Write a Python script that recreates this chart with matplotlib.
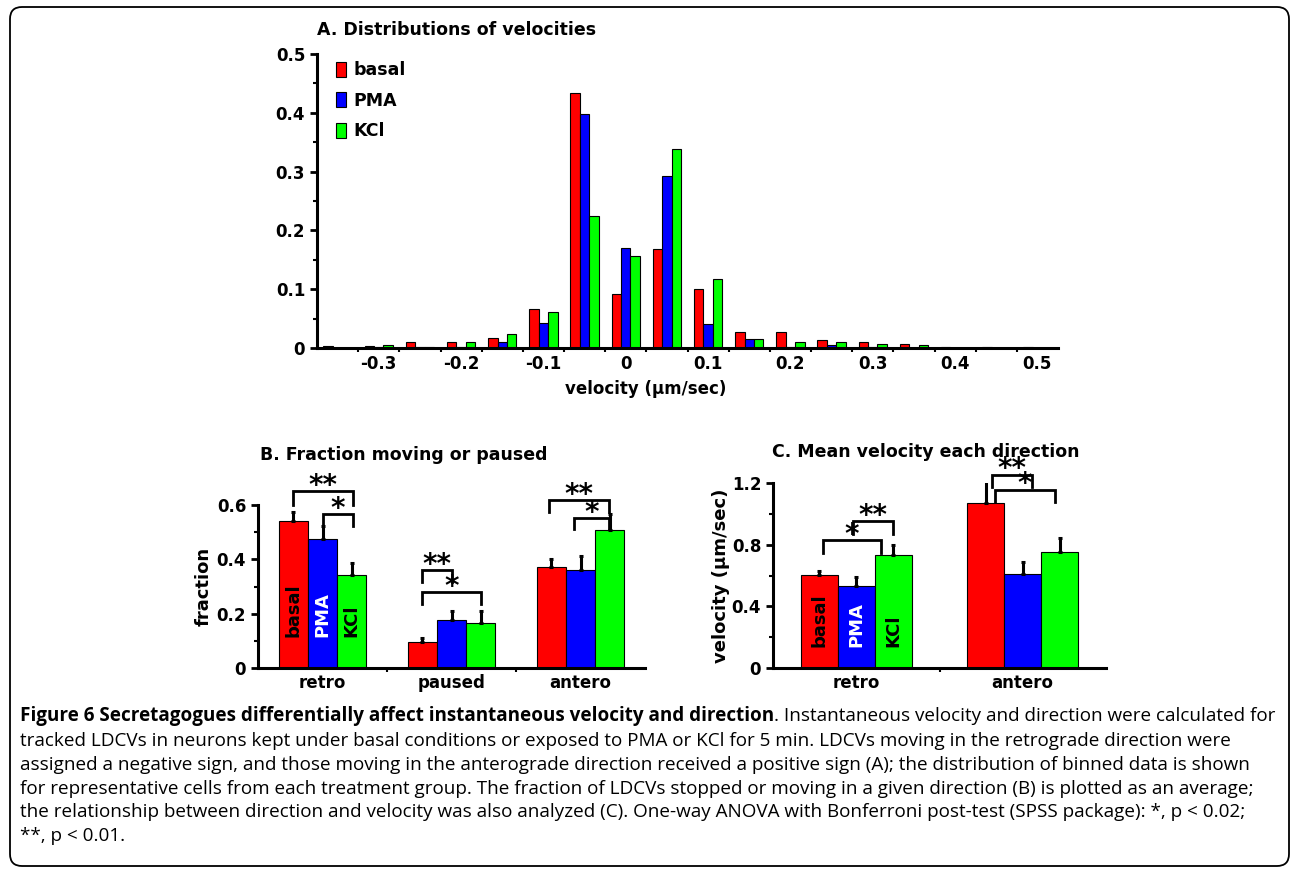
import numpy as np
import matplotlib.pyplot as plt
from matplotlib.patches import Patch, FancyBboxPatch

# ---- panel A: binned velocity distribution ----
bin_centers = [-0.35, -0.30, -0.25, -0.20, -0.15, -0.10, -0.05, 0.0, 0.05,
               0.10, 0.15, 0.20, 0.25, 0.30, 0.35, 0.40, 0.45, 0.50]
basal_hist = [0.003, 0.003, 0.010, 0.010, 0.017, 0.067, 0.434, 0.092, 0.169,
              0.101, 0.028, 0.028, 0.014, 0.011, 0.007, 0.002, 0.001, 0.001]
pma_hist = [0.0, 0.001, 0.001, 0.002, 0.011, 0.043, 0.398, 0.170, 0.292,
            0.041, 0.015, 0.001, 0.005, 0.001, 0.0, 0.0, 0.0, 0.0]
kcl_hist = [0.0, 0.005, 0.001, 0.011, 0.024, 0.061, 0.224, 0.156, 0.339,
            0.117, 0.015, 0.010, 0.010, 0.007, 0.005, 0.0, 0.0, 0.0]
xlabels_a = ['-0.3', '-0.2', '-0.1', '0', '0.1', '0.2', '0.3', '0.4', '0.5']
xlabel_pos_a = [-0.3, -0.2, -0.1, 0.0, 0.1, 0.2, 0.3, 0.4, 0.5]

# ---- panel B: fraction moving or paused ----
cats_b = ['retro', 'paused', 'antero']
frac_basal = [0.542, 0.097, 0.371]
frac_basal_err = [0.033, 0.012, 0.032]
frac_pma = [0.475, 0.175, 0.362]
frac_pma_err = [0.048, 0.033, 0.051]
frac_kcl = [0.344, 0.164, 0.507]
frac_kcl_err = [0.043, 0.044, 0.060]

# ---- panel C: mean velocity each direction ----
cats_c = ['retro', 'antero']
vel_basal = [0.601, 1.07]
vel_basal_err = [0.028, 0.21]
vel_pma = [0.534, 0.612]
vel_pma_err = [0.056, 0.073]
vel_kcl = [0.731, 0.752]
vel_kcl_err = [0.065, 0.093]

groups = ['basal', 'PMA', 'KCl']
colors = ['#ff0000', '#0000ff', '#00ff00']

# significance brackets: (category, left offset, right offset, y, leg bottom, label), offsets in bar widths
sig_b = [(0, -1.0, 1.05, 0.650, 0.600, '**'),
         (0, 0.0, 1.05, 0.567, 0.524, '*'),
         (1, -1.0, 0.0, 0.360, 0.317, '**'),
         (1, -1.0, 1.0, 0.280, 0.237, '*'),
         (2, -1.08, 0.98, 0.619, 0.576, '**'),
         (2, -0.23, 0.98, 0.553, 0.510, '*')]
sig_c = [(0, -0.90, 0.68, 0.832, 0.748, '*'),
         (0, -0.08, 1.0, 0.951, 0.871, '**'),
         (1, -0.84, 0.25, 1.254, 1.174, '**'),
         (1, -0.75, 0.88, 1.157, 1.077, '*')]

W, H = 1292, 869
plt.rcParams['font.family'] = 'DejaVu Sans'
plt.rcParams['font.weight'] = 'bold'
fig = plt.figure(figsize=(W / 100, H / 100), dpi=100)


def px_axes(l, t, r, b):
    return fig.add_axes([l / W, 1 - b / H, (r - l) / W, (b - t) / H])


def style_axes(ax):
    for s in ['top', 'right']:
        ax.spines[s].set_visible(False)
    for s in ['left', 'bottom']:
        ax.spines[s].set_linewidth(2.2)
    ax.tick_params(which='major', direction='out', length=5, width=2, labelsize=12)
    ax.tick_params(which='minor', direction='out', length=3, width=1.5)


# ---------- A ----------
axA = px_axes(317, 54, 1058, 348)
bw = 0.0115
x = np.array(bin_centers)
for k, (vals, c, g) in enumerate(zip([basal_hist, pma_hist, kcl_hist], colors, groups)):
    axA.bar(x + (k - 1) * bw, vals, width=bw, color=c, edgecolor='black', linewidth=0.8, label=g)
axA.set_xlim(-0.375, 0.525)
axA.set_ylim(0, 0.5)
style_axes(axA)
axA.set_xticks(xlabel_pos_a)
axA.set_xticklabels(xlabels_a)
axA.tick_params(axis='x', which='major', length=0, pad=5)
axA.set_xticks(np.array(bin_centers[:-1]) + 0.025, minor=True)
axA.set_yticks([0, 0.1, 0.2, 0.3, 0.4, 0.5])
axA.set_yticklabels(['0', '0.1', '0.2', '0.3', '0.4', '0.5'])
axA.set_yticks([0.05, 0.15, 0.25, 0.35, 0.45], minor=True)
axA.set_xlabel('velocity (\u03bcm/sec)', fontsize=12, fontweight='bold', labelpad=5)
axA.xaxis.label.set_x(0.443)
axA.set_title('A. Distributions of velocities', loc='left', fontsize=12.5, fontweight='bold', pad=14)
handles = [Patch(facecolor=c, edgecolor='black', linewidth=0.8) for c in colors]
axA.legend(handles, groups, loc='upper left', bbox_to_anchor=(0.014, 1.005),
           frameon=False, handlelength=0.6, handleheight=0.95, handletextpad=0.4,
           labelspacing=0.72, borderpad=0, prop={'size': 12.5, 'weight': 'bold'})


def grouped(ax, cats, means, errs, frac_w, lab_y, sig, bar_fs):
    xc = np.arange(len(cats))
    for k, (m, e, c) in enumerate(zip(means, errs, colors)):
        ax.bar(xc + (k - 1) * frac_w, m, width=frac_w, color=c, edgecolor='black', linewidth=0.8)
        ax.errorbar(xc + (k - 1) * frac_w, m, yerr=[np.zeros(len(e)), e], fmt='none',
                    ecolor='black', elinewidth=2.2, capsize=1.5, capthick=2.2)
    ax.set_xlim(-0.5, len(cats) - 0.5)
    style_axes(ax)
    ax.set_xticks(xc)
    ax.set_xticklabels(cats)
    ax.tick_params(axis='x', which='major', length=0, pad=4)
    ax.set_xticks(xc[:-1] + 0.5, minor=True)
    for k, (g, tc) in enumerate(zip(groups, ['black', 'white', 'black'])):
        ax.text((k - 1) * frac_w, lab_y, g, rotation=90, ha='center', va='bottom',
                color=tc, fontsize=bar_fs, fontweight='bold')
    for ci, o1, o2, y, yb, lab in sig:
        x1 = ci + o1 * frac_w
        x2 = ci + o2 * frac_w
        ax.plot([x1, x1, x2, x2], [yb, y, y, yb], color='black', lw=2, clip_on=False,
                solid_joinstyle='miter')
        ax.annotate(lab, xy=((x1 + x2) / 2, y), xytext=(0, -2), textcoords='offset points',
                    ha='center', va='baseline', fontsize=20, fontweight='bold',
                    annotation_clip=False)


# ---------- B ----------
axB = px_axes(258, 505, 645, 668)
grouped(axB, cats_b, [frac_basal, frac_pma, frac_kcl],
        [frac_basal_err, frac_pma_err, frac_kcl_err], 0.227, 0.114, sig_b, 13)
axB.set_ylim(0, 0.6)
axB.set_yticks([0, 0.2, 0.4, 0.6])
axB.set_yticklabels(['0', '0.2', '0.4', '0.6'])
axB.set_yticks([0.1, 0.3, 0.5], minor=True)
axB.set_ylabel('fraction', fontsize=13, fontweight='bold', labelpad=3)
fig.text(260 / W, 1 - 455 / H, 'B. Fraction moving or paused', fontsize=12.5,
         fontweight='bold', va='center', ha='left')

# ---------- C ----------
axC = px_axes(773, 483, 1106, 668)
grouped(axC, cats_c, [vel_basal, vel_pma, vel_kcl],
        [vel_basal_err, vel_pma_err, vel_kcl_err], 0.222, 0.136, sig_c, 13)
axC.set_ylim(0, 1.2)
axC.set_yticks([0, 0.4, 0.8, 1.2])
axC.set_yticklabels(['0', '0.4', '0.8', '1.2'])
axC.set_yticks([0.2, 0.6, 1.0], minor=True)
axC.set_ylabel('velocity (\u03bcm/sec)', fontsize=13, fontweight='bold', labelpad=1)
fig.text(772 / W, 1 - 452 / H, 'C. Mean velocity each direction', fontsize=12.5,
         fontweight='bold', va='center', ha='left')

# ---------- caption ----------
cap_font = 'Open Sans'
cap_fs = 13.6
bold_part = 'Figure 6 Secretagogues differentially affect instantaneous velocity and direction'
lines = ['. Instantaneous velocity and direction were calculated for',
         'tracked LDCVs in neurons kept under basal conditions or exposed to PMA or KCl for 5 min. LDCVs moving in the retrograde direction were',
         'assigned a negative sign, and those moving in the anterograde direction received a positive sign (A); the distribution of binned data is shown',
         'for representative cells from each treatment group. The fraction of LDCVs stopped or moving in a given direction (B) is plotted as an average;',
         'the relationship between direction and velocity was also analyzed (C). One-way ANOVA with Bonferroni post-test (SPSS package): *, p < 0.02;',
         '**, p < 0.01.']
line_y = [716, 741, 765, 789, 812, 836]
tb = fig.text(20 / W, 1 - line_y[0] / H, bold_part, fontsize=cap_fs, family=cap_font,
              fontweight='bold', va='center', ha='left')
r = fig.canvas.get_renderer()
bb = tb.get_window_extent(renderer=r)
fig.text(bb.x1 / W, 1 - line_y[0] / H, lines[0], fontsize=cap_fs, family=cap_font,
         fontweight='normal', va='center', ha='left')
for txt, yy in zip(lines[1:], line_y[1:]):
    fig.text(20 / W, 1 - yy / H, txt, fontsize=cap_fs, family=cap_font,
             fontweight='normal', va='center', ha='left')

# rounded frame around the whole figure
frame = FancyBboxPatch((0.10, 0.03), 12.79, 8.59, boxstyle='round,pad=0,rounding_size=0.12',
                       transform=fig.dpi_scale_trans, facecolor='none', edgecolor='black', lw=1.3)
fig.add_artist(frame)

fig.savefig('out.png', dpi=100)
